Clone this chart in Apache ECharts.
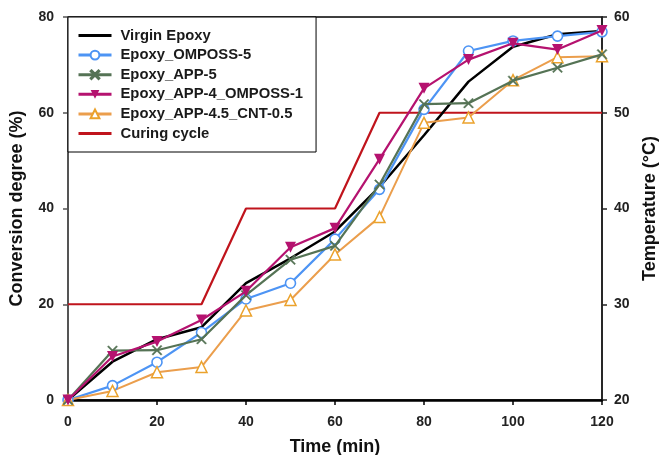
<!DOCTYPE html>
<html>
<head>
<meta charset="utf-8">
<script src="https://cdn.jsdelivr.net/npm/echarts@6/dist/echarts.min.js"></script>
<style>
html,body{margin:0;padding:0;background:#fff;}
#chart{width:659px;height:455px;}
</style>
</head>
<body>
<div id="chart"></div>
<script>
// ---- data ----
var time = [0, 10, 20, 30, 40, 50, 60, 70, 80, 90, 100, 110, 120];
var virginEpoxy = [0, 8.0, 12.7, 15.2, 24.4, 29.6, 35.2, 44.5, 55.3, 66.5, 73.8, 76.4, 77.1];
var epoxyOMPOSS5 = [0, 3.0, 7.9, 14.1, 21.1, 24.4, 33.6, 44.0, 60.7, 72.9, 75.0, 76.0, 76.9];
var epoxyAPP5 = [0, 10.3, 10.4, 12.7, 21.9, 29.3, 32.2, 45.0, 61.8, 62.0, 66.7, 69.4, 72.2];
var epoxyAPP4OMPOSS1 = [0, 9.1, 12.2, 16.7, 22.7, 31.9, 35.9, 50.3, 65.1, 71.1, 74.5, 73.2, 77.2];
var epoxyAPP45CNT05 = [0, 1.9, 5.8, 6.9, 18.7, 20.9, 30.4, 38.2, 57.9, 59.0, 66.8, 71.6, 71.8];
var curingTime = [0, 30, 40, 60, 70, 120];
var curingTemp = [30, 30, 40, 40, 50, 50];
var seriesNames = ['Virgin Epoxy', 'Epoxy_OMPOSS-5', 'Epoxy_APP-5', 'Epoxy_APP-4_OMPOSS-1', 'Epoxy_APP-4.5_CNT-0.5', 'Curing cycle'];
var plainLineNames = ['Virgin Epoxy', 'Curing cycle'];
var xTitle = 'Time (min)';
var yLeftTitle = 'Conversion degree (%)';
var yRightTitle = 'Temperature (°C)';

function pairs(xs, ys) { return xs.map(function (x, i) { return [x, ys[i]]; }); }

var FONT = '"Liberation Sans", Arial, sans-serif';
var crossSym = 'path://M1,0 L5,4 L9,0 L10,1 L6,5 L10,9 L9,10 L5,6 L1,10 L0,9 L4,5 L0,1 Z';

var legendData = seriesNames.map(function (n) {
  if (plainLineNames.indexOf(n) >= 0) {
    return {name: n, itemStyle: {opacity: 0, color: 'rgba(0,0,0,0)', borderWidth: 0}};
  }
  return {name: n};
});

var chart = echarts.init(document.getElementById('chart'), null, {renderer: 'canvas'});
var option = {
  backgroundColor: '#fff',
  animation: false,
  grid: {left: 68, right: 57, top: 17, bottom: 55, outerBoundsMode: 'none', containLabel: false,
         show: true, borderColor: '#000', borderWidth: 1.5, backgroundColor: 'transparent'},
  legend: {
    data: legendData,
    orient: 'vertical',
    left: 68, top: 17,
    padding: [11, 13, 11, 9],
    itemGap: 4.6,
    itemWidth: 33, itemHeight: 11,
    backgroundColor: '#fff',
    borderColor: '#000', borderWidth: 1,
    lineStyle: {width: 3},
    textStyle: {fontFamily: FONT, fontSize: 14.8, fontWeight: 'bold', color: '#1a1a1a', lineHeight: 15, padding: [0, 0, 0, 4]}
  },
  xAxis: {
    type: 'value', min: 0, max: 120, interval: 20,
    name: xTitle, nameLocation: 'middle', nameGap: 38,
    nameTextStyle: {fontFamily: FONT, fontSize: 18, fontWeight: 'bold', color: '#111'},
    axisLine: {show: true, lineStyle: {color: '#000', width: 2.5}},
    axisTick: {show: true, inside: false, length: 5, lineStyle: {color: '#000', width: 1.5}},
    axisLabel: {fontFamily: FONT, fontSize: 14, fontWeight: 'bold', color: '#222', margin: 15},
    splitLine: {show: false}
  },
  yAxis: [{
    type: 'value', min: 0, max: 80, interval: 20, position: 'left',
    name: yLeftTitle, nameLocation: 'middle', nameGap: 42, nameRotate: 90,
    nameTextStyle: {fontFamily: FONT, fontSize: 18, fontWeight: 'bold', color: '#111'},
    axisLine: {show: true, lineStyle: {color: '#555', width: 2}},
    axisTick: {show: true, inside: false, length: 5, lineStyle: {color: '#555', width: 1.5}},
    axisLabel: {fontFamily: FONT, fontSize: 14, fontWeight: 'bold', color: '#222', margin: 14},
    splitLine: {show: false}
  }, {
    type: 'value', min: 20, max: 60, interval: 10, position: 'right',
    name: yRightTitle, nameLocation: 'middle', nameGap: 39, nameRotate: 90,
    nameTextStyle: {fontFamily: FONT, fontSize: 18, fontWeight: 'bold', color: '#111'},
    axisLine: {show: true, lineStyle: {color: '#222', width: 1.5}},
    axisTick: {show: true, inside: false, length: 5, lineStyle: {color: '#222', width: 1.5}},
    axisLabel: {fontFamily: FONT, fontSize: 14, fontWeight: 'bold', color: '#222', margin: 12},
    splitLine: {show: false}
  }],
  series: [
    {
      name: seriesNames[5], type: 'line', yAxisIndex: 1, z: 1,
      data: pairs(curingTime, curingTemp), symbol: 'none',
      lineStyle: {color: '#c0141c', width: 2.2}, itemStyle: {color: '#c0141c'}
    },
    {
      name: seriesNames[0], type: 'line', z: 2,
      data: pairs(time, virginEpoxy), symbol: 'none',
      lineStyle: {color: '#000', width: 2.5}, itemStyle: {color: '#000'}
    },
    {
      name: seriesNames[1], type: 'line', z: 3,
      data: pairs(time, epoxyOMPOSS5), symbol: 'circle', symbolSize: 10,
      lineStyle: {color: '#4d94f4', width: 2.2},
      itemStyle: {color: '#fff', borderColor: '#4d94f4', borderWidth: 1.6}
    },
    {
      name: seriesNames[2], type: 'line', z: 4,
      data: pairs(time, epoxyAPP5), symbol: crossSym, symbolSize: 10,
      lineStyle: {color: '#557355', width: 2.2},
      itemStyle: {color: '#557355', borderColor: '#557355', borderWidth: 0.5}
    },
    {
      name: seriesNames[3], type: 'line', z: 5,
      data: pairs(time, epoxyAPP4OMPOSS1), symbol: 'triangle', symbolRotate: 180, symbolSize: 11,
      lineStyle: {color: '#b5126f', width: 2.2},
      itemStyle: {color: '#b5126f'}
    },
    {
      name: seriesNames[4], type: 'line', z: 3,
      data: pairs(time, epoxyAPP45CNT05), symbol: 'triangle', symbolSize: 11,
      lineStyle: {color: '#eb9e4c', width: 2},
      itemStyle: {color: '#fff', borderColor: '#eba22c', borderWidth: 1.5}
    }
  ]
};
chart.setOption(option);
</script>
</body>
</html>
